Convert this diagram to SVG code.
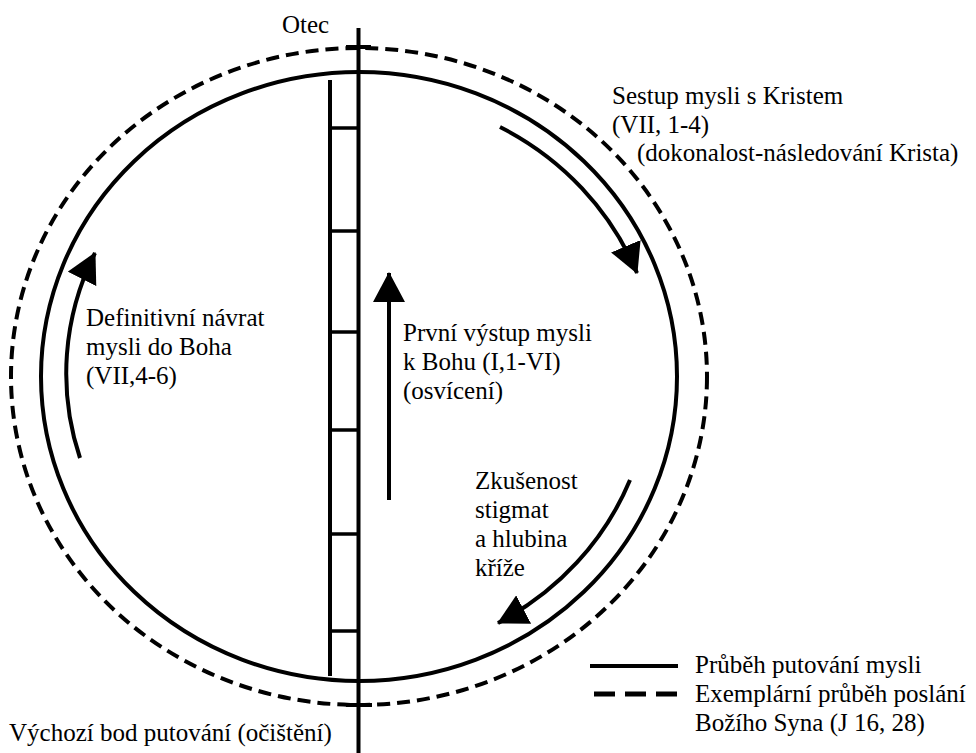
<svg xmlns="http://www.w3.org/2000/svg" width="976" height="753" viewBox="0 0 976 753" xml:lang="cs">
<defs>
  <marker id="ah" markerUnits="userSpaceOnUse" markerWidth="30" markerHeight="32" viewBox="0 0 30 32" refX="29" refY="16" orient="auto">
    <path d="M0,0 L30,16 L0,32 Z" fill="#000"/>
  </marker>
</defs>
<rect width="976" height="753" fill="#fff"/>
<g id="circles" fill="none" stroke="#000" stroke-width="4">
  <ellipse id="dashed-circle" stroke-dasharray="13 7" cx="359" cy="376.5" rx="348" ry="328.5"/>
  <ellipse id="solid-circle" cx="359" cy="376.5" rx="318" ry="304.5"/>
</g>
<g id="axis" stroke="#000" stroke-width="4">
  <line x1="358.5" y1="28" x2="358.5" y2="753"/>
  <line x1="346" y1="47" x2="371" y2="47"/>
  <line x1="346" y1="705" x2="372" y2="705"/>
</g>
<g id="ladder" stroke="#000" stroke-width="3.5">
  <line stroke-width="4" x1="330" y1="80" x2="330" y2="676"/>
  <line x1="330" y1="128" x2="358" y2="128"/>
  <line x1="330" y1="231" x2="358" y2="231"/>
  <line x1="330" y1="332" x2="358" y2="332"/>
  <line x1="330" y1="430" x2="358" y2="430"/>
  <line x1="330" y1="534" x2="358" y2="534"/>
  <line x1="330" y1="631" x2="358" y2="631"/>
</g>
<g id="connectors" fill="none" stroke="#000" stroke-width="4" marker-end="url(#ah)">
  <path d="M500,127 A298,285 0 0 1 637,273"/>
  <path d="M80,458 A291,278 0 0 1 95,253"/>
  <path d="M389,500 L389,273"/>
  <path d="M630,480 A296,283 0 0 1 498,623"/>
</g>
<g id="labels" font-family="Liberation Serif, serif" font-size="25" fill="#000">
<g id="label-otec"><text x="282" y="33" font-family="Liberation Serif, serif">Otec</text></g>
<g id="label-sestup">
  <text x="612" y="104" font-family="Liberation Serif, serif">Sestup mysli s Kristem</text>
  <text x="612" y="133" font-family="Liberation Serif, serif">(VII, 1-4)</text>
  <text x="637" y="161" font-family="Liberation Serif, serif">(dokonalost-následování Krista)</text>
</g>
<g id="label-definitivni">
  <text x="86" y="326" font-family="Liberation Serif, serif">Definitivní návrat</text>
  <text x="86" y="355" font-family="Liberation Serif, serif">mysli do Boha</text>
  <text x="86" y="384" font-family="Liberation Serif, serif">(VII,4-6)</text>
</g>
<g id="label-prvni">
  <text x="403" y="341" font-family="Liberation Serif, serif">První výstup mysli</text>
  <text x="403" y="370" font-family="Liberation Serif, serif">k Bohu (I,1-VI)</text>
  <text x="403" y="399" font-family="Liberation Serif, serif">(osvícení)</text>
</g>
<g id="label-zkusenost">
  <text x="475" y="489" font-family="Liberation Serif, serif">Zkušenost</text>
  <text x="475" y="518" font-family="Liberation Serif, serif">stigmat</text>
  <text x="475" y="547" font-family="Liberation Serif, serif">a hlubina</text>
  <text x="475" y="576" font-family="Liberation Serif, serif">kříže</text>
</g>
<g id="label-vychozi"><text x="9" y="741" font-family="Liberation Serif, serif">Výchozí bod putování (očištění)</text></g>
</g>
<g id="legend">
  <line x1="590" y1="666" x2="678" y2="666" stroke="#000" stroke-width="4"/>
  <line x1="594" y1="694" x2="678" y2="694" stroke="#000" stroke-width="5" stroke-dasharray="21 10"/>
  <g font-family="Liberation Serif, serif" font-size="25" fill="#000">
    <text x="695" y="673" font-family="Liberation Serif, serif">Průběh putování mysli</text>
    <text x="695" y="702" font-family="Liberation Serif, serif">Exemplární průběh poslání</text>
    <text x="695" y="731" font-family="Liberation Serif, serif">Božího Syna (J 16, 28)</text>
  </g>
</g>
</svg>
